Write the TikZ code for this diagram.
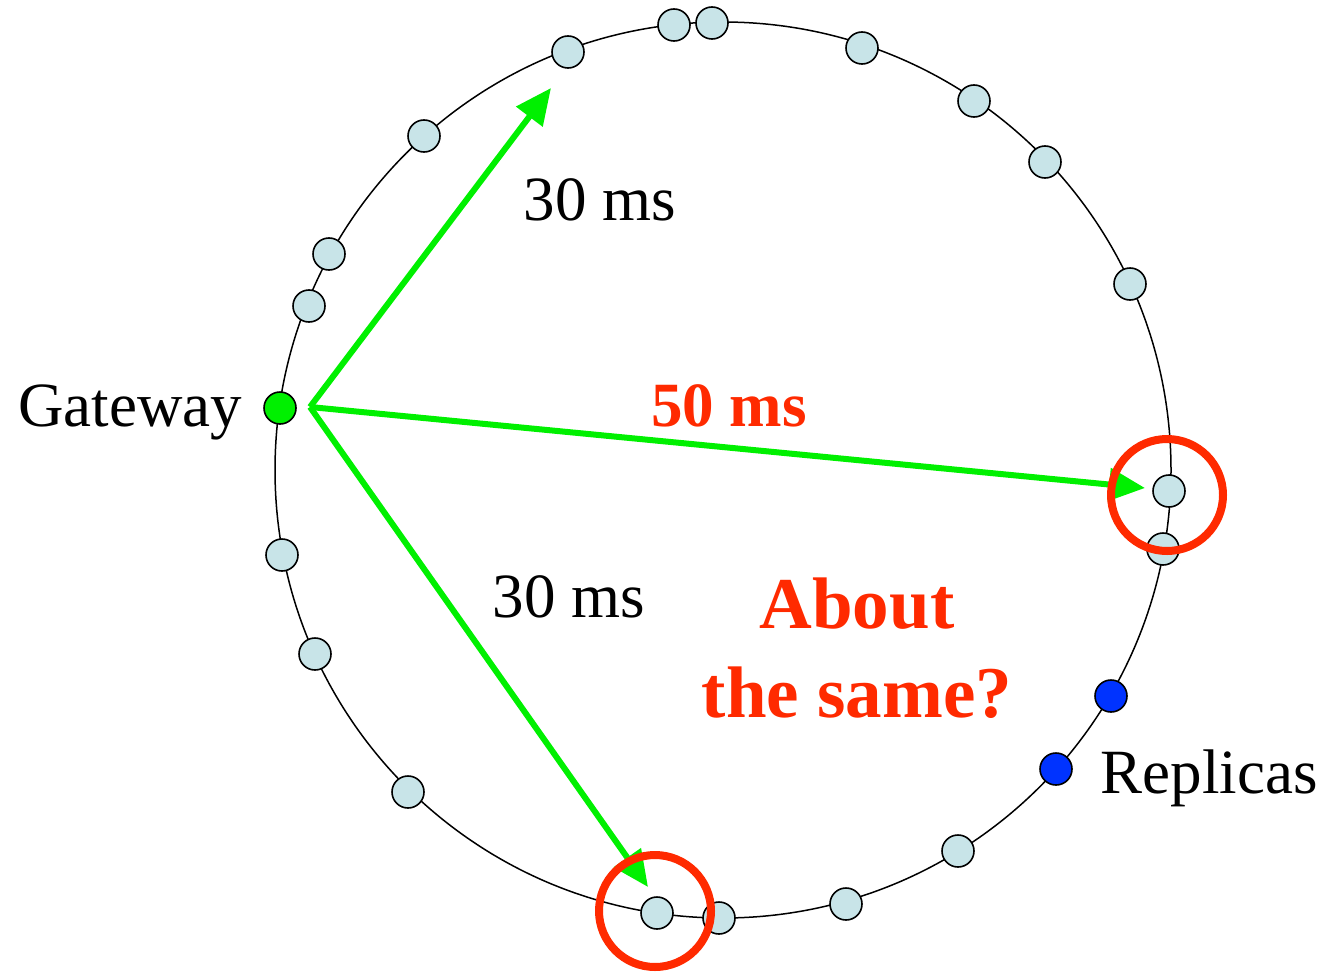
\documentclass[tikz,border=0pt]{standalone}
\usepackage{fontspec}
\setmainfont{Liberation Serif}
\usetikzlibrary{arrows.meta}
\definecolor{nodefill}{HTML}{C8E4E8}
\definecolor{arrgreen}{HTML}{00F000}
\definecolor{hotred}{HTML}{FF2A00}
\definecolor{repblue}{HTML}{0033FF}
\tikzset{
  peer/.style={circle,draw=black,line width=1.6pt,fill=nodefill,minimum size=32pt,inner sep=0pt},
  gate/.style={peer,fill=arrgreen},
  replica/.style={peer,fill=repblue},
  latency/.style={draw=arrgreen,line width=6pt,-{Triangle[length=36pt,width=32pt]}},
  mark circle/.style={draw=hotred,line width=8pt},
  lbl/.style={font=\fontsize{63}{70}\selectfont,anchor=base,inner sep=0pt},
  redlbl/.style={lbl,text=hotred,font=\fontsize{63}{70}\selectfont\bfseries},
}
\begin{document}
\begin{tikzpicture}[x=1pt,y=-1pt]
\useasboundingbox (0,0) rectangle (1324,971);
\draw[line width=1.5pt] (723,470) circle[radius=448];
% peers
\node[peer] (p1) at (568,52) {};
\node[peer] (p2) at (674,25) {};
\node[peer] (p3) at (712,23) {};
\node[peer] (p4) at (862,48) {};
\node[peer] (p5) at (974,101) {};
\node[peer] (p6) at (1045,162) {};
\node[peer] (p7) at (1130,284) {};
\node[peer] (p8) at (1169,491) {};
\node[peer] (p9) at (1163,549) {};
\node[replica] (r1) at (1111,696) {};
\node[replica] (r2) at (1056,769) {};
\node[peer] (p10) at (958,851) {};
\node[peer] (p11) at (846,904) {};
\node[peer] (p12) at (719,918) {};
\node[peer] (p13) at (657,913) {};
\node[peer] (p14) at (408,792) {};
\node[peer] (p15) at (315,654) {};
\node[peer] (p16) at (282,555) {};
\node[peer] (p17) at (309,306) {};
\node[peer] (p18) at (329,254) {};
\node[peer] (p19) at (424,136) {};
\node[gate] (gw) at (280,408) {};
% arrows
\coordinate (src) at (310,407);
\coordinate (tipA) at (551,88);
\coordinate (tipB) at (1145,488);
\coordinate (tipC) at (648,887);
\draw[latency] (src) -- (tipA);
\draw[latency] (src) -- (tipB);
\draw[latency] (src) -- (tipC);
% red circles
\draw[mark circle] (1167,495) circle[radius=56];
\draw[mark circle] (655,911) circle[radius=56];
% labels
\node[lbl] (l1) at (600,220) {30 ms};
\node[lbl] (l2) at (569,617) {30 ms};
\node[redlbl] (l3) at (729,426) {50 ms};
\node[lbl] (lg) at (130,426) {Gateway};
\node[lbl] (lr) at (1209,793) {Replicas};
\node[redlbl,font=\fontsize{73}{80}\selectfont\bfseries] (a1) at (857,628) {About};
\node[redlbl,font=\fontsize{73}{80}\selectfont\bfseries] (a2) at (857,717) {the same?};
\end{tikzpicture}
\end{document}
